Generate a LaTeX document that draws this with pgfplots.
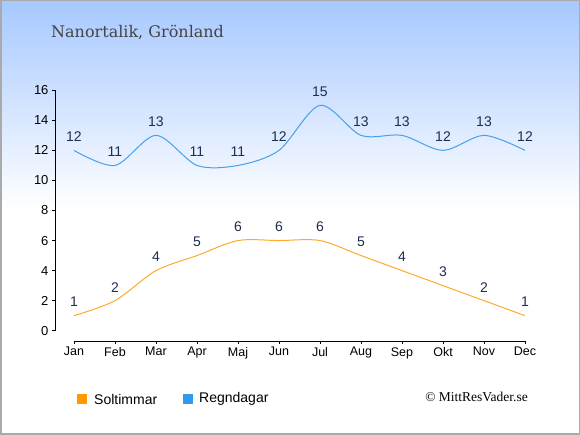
\documentclass[border=0pt]{standalone}
\usepackage{pgfplots}
\pgfplotsset{compat=1.18}
\usepackage{fontspec}
\setmainfont{Liberation Sans}
\newfontfamily\titlefont{DejaVu Serif}
\newfontfamily\copyfont{Liberation Serif}
\definecolor{topblue}{RGB}{166,200,255}
\definecolor{sunline}{RGB}{255,170,40}
\definecolor{rainline}{RGB}{70,160,235}
\definecolor{sunbox}{RGB}{255,153,0}
\definecolor{rainbox}{RGB}{51,153,238}
\definecolor{lbl}{RGB}{30,45,80}
\definecolor{ttl}{RGB}{68,68,68}
\definecolor{frame}{RGB}{170,170,170}
\begin{document}
\begin{tikzpicture}[x=1pt,y=1pt]
\fill[white] (0,0) rectangle (580,435);
\shade[top color=topblue,bottom color=white] (0,225) rectangle (580,435);
\draw[frame, line width=1.5pt] (0.75,0.75) rectangle (579.25,434.25);
\node[anchor=west, font=\titlefont\fontsize{16}{19}\selectfont, text=ttl, inner sep=0pt] at (51,403) {Nanortalik, Grönland};

\begin{axis}[at={(55pt,104.3pt)}, anchor=south west, scale only axis,
  width=470pt, height=240.4pt,
  xmin=-0.463, xmax=11, ymin=0, ymax=16,
  axis x line=none, axis y line*=left,
  ytick={0,2,...,16},
  tick align=outside, major tick length=3pt,
  axis line style={black, line width=0.9pt},
  tick style={black, line width=0.9pt},
  yticklabel style={font=\fontsize{13}{15}\selectfont},
  /pgf/number format/assume math mode=true,
  clip=false,
  point meta=y,
  nodes near coords,
  nodes near coords style={anchor=center, yshift=13.5pt, font=\fontsize{14}{16}\selectfont, text=lbl, /pgf/number format/assume math mode=true},
]
\addplot[sunline, line width=1pt, smooth, tension=0.5, no marks] coordinates {
(0,1) (1,2) (2,4) (3,5) (4,6) (5,6) (6,6) (7,5) (8,4) (9,3) (10,2) (11,1)};
\addplot[rainline, line width=1pt, smooth, tension=0.5, no marks] coordinates {
(0,12) (1,11) (2,13) (3,11) (4,11) (5,12) (6,15) (7,13) (8,13) (9,12) (10,13) (11,12)};
\end{axis}

\begin{axis}[at={(74pt,93.7pt)}, anchor=south west, scale only axis,
  width=451pt, height=10pt,
  xmin=0, xmax=11, ymin=0, ymax=1,
  axis y line=none, axis x line*=bottom,
  xtick={0,...,11},
  xticklabels={Jan,Feb,Mar,Apr,Maj,Jun,Jul,Aug,Sep,Okt,Nov,Dec},
  tick align=outside, major tick length=2.5pt,
  axis line style={black, line width=0.9pt},
  tick style={black, line width=0.9pt},
  xticklabel style={font=\fontsize{12.5}{14}\selectfont},
]
\addplot[draw=none] coordinates {(0,0) (11,1)};
\end{axis}

\fill[sunbox] (77,31) rectangle (87,41);
\node[anchor=west, inner sep=0pt, font=\fontsize{14}{16}\selectfont] at (94,36) {Soltimmar};
\fill[rainbox] (183,31) rectangle (193,41);
\node[anchor=west, inner sep=0pt, font=\fontsize{14}{16}\selectfont] at (199,36) {Regndagar};
\node[anchor=east, inner sep=0pt, font=\copyfont\fontsize{13.5}{16}\selectfont] at (528,38.5) {© MittResVader.se};
\end{tikzpicture}
\end{document}
